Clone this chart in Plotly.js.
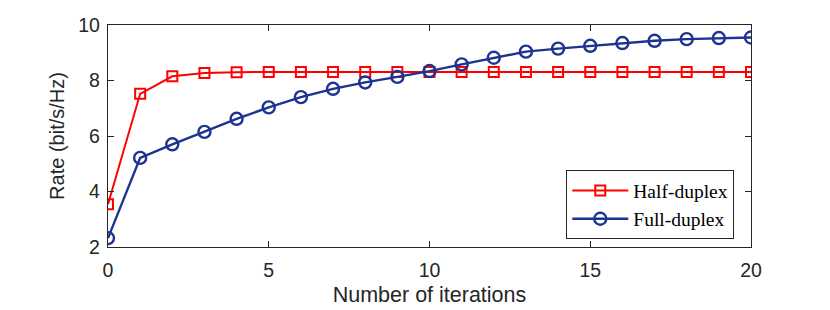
<!DOCTYPE html>
<html><head><meta charset="utf-8">
<script src="https://cdn.plot.ly/plotly-3.0.1.min.js"></script>
<style>html,body{margin:0;padding:0;background:#fff}#c{width:830px;height:310px}</style>
</head><body><div id="c"></div>
<script>
const iterations = [0,1,2,3,4,5,6,7,8,9,10,11,12,13,14,15,16,17,18,19,20];
const halfDuplex = [3.54,7.52,8.15,8.27,8.30,8.31,8.31,8.31,8.31,8.31,8.31,8.31,8.31,8.31,8.31,8.31,8.31,8.31,8.31,8.31,8.31];
const fullDuplex = [2.32,5.21,5.70,6.15,6.62,7.03,7.40,7.70,7.93,8.13,8.34,8.58,8.82,9.04,9.15,9.25,9.35,9.43,9.49,9.53,9.55];
const xTicks = [0,5,10,15,20];
const yTicks = [2,4,6,8,10];

const traces = [
 {x: iterations, y: halfDuplex, name: 'Half-duplex', mode: 'lines+markers',
  line: {color: '#ff0000', width: 2},
  marker: {symbol: 'square-open', size: 10, color: '#ff0000', line: {width: 2, color: '#ff0000'}}},
 {x: iterations, y: fullDuplex, name: 'Full-duplex', mode: 'lines+markers',
  line: {color: '#1c3391', width: 2.4},
  marker: {symbol: 'circle-open', size: 12, color: '#1c3391', line: {width: 2.4, color: '#1c3391'}}}
];
const tickFont = {family: 'Liberation Sans, Arial, sans-serif', size: 19.5, color: '#262626'};
const layout = {
 width: 830, height: 310,
 margin: {l: 108, r: 79, t: 25, b: 63},
 paper_bgcolor: '#fff', plot_bgcolor: '#fff',
 showlegend: true,
 xaxis: {range: [0, 20], tickvals: xTicks, ticktext: xTicks.map(String), ticks: 'inside', ticklen: 6, tickwidth: 1,
   tickcolor: '#262626', showline: true, linecolor: '#262626', linewidth: 1.2, mirror: 'ticks', showgrid: false, zeroline: false,
   tickfont: tickFont, ticklabelstandoff: 5,
   title: {text: 'Number of iterations', font: {family: 'Liberation Sans, Arial, sans-serif', size: 21.5, color: '#262626'}, standoff: 7}},
 yaxis: {range: [2, 10], tickvals: yTicks, ticktext: yTicks.map(String), ticks: 'inside', ticklen: 6, tickwidth: 1,
   tickcolor: '#262626', showline: true, linecolor: '#262626', linewidth: 1.2, mirror: 'ticks', showgrid: false, zeroline: false,
   tickfont: tickFont, ticklabelstandoff: 3,
   title: {text: 'Rate (bit/s/Hz)', font: {family: 'Liberation Sans, Arial, sans-serif', size: 20, color: '#262626'}, standoff: 8}},
 legend: {x: 0.974, y: 0.035, xanchor: 'right', yanchor: 'bottom', bgcolor: '#fff', bordercolor: '#262626', borderwidth: 1,
   font: {family: 'Liberation Serif, DejaVu Serif, serif', size: 19.5, color: '#000'}, tracegroupgap: 0, itemwidth: 56}
};
Plotly.newPlot('c', traces, layout, {displayModeBar: false, staticPlot: true});
</script></body></html>
